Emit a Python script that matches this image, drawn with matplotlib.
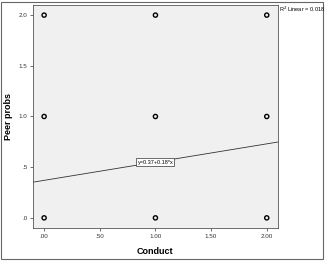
import numpy as np
import matplotlib
matplotlib.use("Agg")
import matplotlib.pyplot as plt
from matplotlib.patches import Rectangle

plt.rcParams['font.family'] = ['Liberation Sans', 'DejaVu Sans']

# observed (distinct) points
conduct = [0, 0, 0, 1, 1, 1, 2, 2, 2]
peer_probs = [0, 1, 2, 0, 1, 2, 0, 1, 2]

# fit line from the chart
intercept = 0.37
slope = 0.18
r2 = 0.018

xticks = [0.0, 0.5, 1.0, 1.5, 2.0]
xticklabels = ['.00', '.50', '1.00', '1.50', '2.00']
yticks = [0.0, 0.5, 1.0, 1.5, 2.0]
yticklabels = ['.0', '.5', '1.0', '1.5', '2.0']

fig = plt.figure(figsize=(3.25, 2.62), dpi=100)
ax = fig.add_axes([0.1015, 0.1298, 0.7535, 0.8512])
ax.set_facecolor('#f0f0f0')

ax.scatter(conduct, peer_probs, s=9, facecolors='none', edgecolors='black',
           linewidths=1.0, zorder=3)

xlim = (-0.1, 2.1)
xx = np.array(xlim)
ax.plot(xx, intercept + slope * xx, color='#333333', lw=0.6)
ax.text(1.0, intercept + slope * 1.0, f'y={intercept:.2f}+{slope:.2f}*x',
        fontsize=4, ha='center', va='center',
        bbox=dict(boxstyle='square,pad=0.2', fc='white', ec='#333333', lw=0.5))

ax.set_xlim(xlim)
ax.set_ylim(-0.1, 2.1)
ax.set_xticks(xticks)
ax.set_xticklabels(xticklabels)
ax.set_yticks(yticks)
ax.set_yticklabels(yticklabels)
ax.tick_params(labelsize=4.5, length=2, width=0.5, colors='#333333', pad=2)
for sp in ax.spines.values():
    sp.set_linewidth(0.6)
    sp.set_color('#555555')

ax.set_xlabel('Conduct', fontsize=6.5, fontweight='bold', labelpad=6)
ax.set_ylabel('Peer probs', fontsize=6.5, fontweight='bold', labelpad=4)

fig.text(0.857, 0.965, f'R$^2$ Linear = {r2:.3f}', fontsize=4.1, ha='left', va='center')

fig.patches.append(Rectangle((0.004, 0.012), 0.99, 0.98, transform=fig.transFigure,
                             fill=False, ec='#666666', lw=0.8))

fig.savefig('out.png', dpi=100)
